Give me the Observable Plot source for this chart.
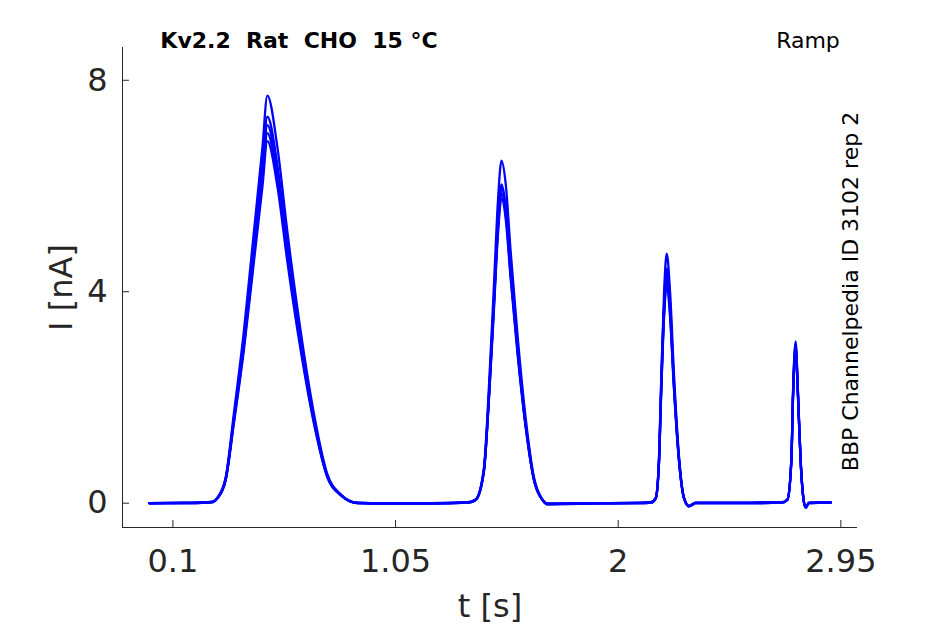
<!DOCTYPE html>
<html>
<head>
<meta charset="utf-8">
<script src="https://cdn.jsdelivr.net/npm/d3@7"></script>
<script src="https://cdn.jsdelivr.net/npm/@observablehq/plot@0.6"></script>
<style>
  html, body { margin: 0; padding: 0; background: #ffffff; }
  svg text { white-space: pre; }
</style>
</head>
<body>
<div id="chart"></div>
<script>
// ---- Data ----
const xTicks = [0.1, 1.05, 2, 2.95];
const yTicks = [0, 4, 8];
const xDomain = [-0.115, 3.021];
const yDomain = [-0.46, 8.62];

const titleText = "Kv2.2  Rat  CHO  15 °C";
const protocolText = "Ramp";
const sourceText = "BBP Channelpedia ID 3102 rep 2";
const xLabel = "t [s]";
const yLabel = "I [nA]";

// time samples [s]
const time = [
  0, 0.15, 0.25, 0.27,
  0.2895, 0.325, 0.360, 0.403, 0.446, 0.482, 0.503, 0.546, 0.588, 0.645, 0.702, 0.759, 0.816, 0.887,
  1.0, 1.2, 1.36,
  1.392, 1.427, 1.449, 1.470, 1.487, 1.502, 1.520, 1.541, 1.570, 1.605, 1.641, 1.677, 1.698,
  1.9, 2.1, 2.14,
  2.160, 2.174, 2.184, 2.196, 2.207, 2.221, 2.238, 2.260, 2.281, 2.302, 2.331,
  2.5, 2.70,
  2.722, 2.739, 2.746, 2.757, 2.767, 2.778, 2.790, 2.800, 2.814,
  2.907
];

// current traces [nA], one per repetition
const traceA = [
  0, 0.01, 0.02, 0.03,
  0.1, 0.48, 1.69, 3.26, 5.15, 6.73, 7.71, 6.73, 5.15, 3.26, 1.69, 0.55, 0.17, 0.01,
  0, 0, 0.02,
  0.07, 0.67, 2.25, 4.14, 5.72, 6.48, 6.04, 4.77, 3.2, 1.62, 0.48, 0.07, -0.01,
  0, 0.01, 0.02,
  0.1, 0.86, 2.44, 4.02, 4.72, 4.02, 2.44, 0.86, 0.1, -0.05, 0.01,
  0.01, 0.02,
  0.07, 0.86, 2.12, 3.06, 2.12, 0.86, 0.1, -0.08, 0.01,
  0.02
];
const traceB = [
  0, 0.01, 0.02, 0.03,
  0.1, 0.46, 1.6, 3.1, 4.9, 6.4, 7.31, 6.39, 4.89, 3.1, 1.6, 0.52, 0.16, 0.01,
  0, 0, 0.02,
  0.07, 0.62, 2.09, 3.85, 5.32, 6.03, 5.62, 4.44, 2.98, 1.51, 0.45, 0.06, -0.01,
  0, 0.01, 0.02,
  0.09, 0.81, 2.29, 3.78, 4.44, 3.78, 2.29, 0.81, 0.09, -0.05, 0.01,
  0.01, 0.02,
  0.07, 0.84, 2.08, 3.0, 2.08, 0.84, 0.1, -0.08, 0.01,
  0.02
];
const traceC = [
  0, 0.0, 0.01, 0.02,
  0.09, 0.45, 1.57, 3.03, 4.79, 6.26, 7.15, 6.26, 4.79, 3.03, 1.57, 0.51, 0.16, 0.0,
  0, -0.01, 0.01,
  0.06, 0.62, 2.07, 3.81, 5.26, 5.96, 5.56, 4.39, 2.94, 1.49, 0.44, 0.06, -0.01,
  0, 0, 0.01,
  0.09, 0.79, 2.24, 3.7, 4.34, 3.7, 2.24, 0.79, 0.09, -0.06, 0.0,
  0, 0.01,
  0.07, 0.83, 2.05, 2.96, 2.05, 0.83, 0.1, -0.08, 0.0,
  0.01
];
const traceD = [
  0, 0.0, 0.01, 0.02,
  0.09, 0.44, 1.54, 2.97, 4.69, 6.12, 7.0, 6.12, 4.69, 2.97, 1.54, 0.5, 0.15, 0.0,
  -0.01, 0, 0.01,
  0.06, 0.61, 2.04, 3.75, 5.18, 5.86, 5.47, 4.32, 2.9, 1.47, 0.43, 0.06, -0.02,
  0, 0, 0.01,
  0.09, 0.77, 2.2, 3.62, 4.25, 3.62, 2.2, 0.77, 0.09, -0.06, 0.0,
  0, 0.01,
  0.07, 0.82, 2.02, 2.92, 2.02, 0.82, 0.09, -0.09, 0.0,
  0.01
];
const traceE = [
  -0.01, 0.0, 0.01, 0.02,
  0.09, 0.43, 1.5, 2.9, 4.58, 5.99, 6.85, 5.99, 4.58, 2.9, 1.5, 0.49, 0.15, 0.0,
  -0.01, -0.01, 0.01,
  0.06, 0.6, 2.0, 3.68, 5.09, 5.77, 5.38, 4.25, 2.85, 1.44, 0.43, 0.06, -0.02,
  -0.01, 0, 0.01,
  0.09, 0.76, 2.15, 3.54, 4.15, 3.54, 2.15, 0.76, 0.09, -0.06, 0.0,
  0, 0.01,
  0.06, 0.81, 2.0, 2.88, 2.0, 0.81, 0.09, -0.09, 0.0,
  0.01
];

const traces = {A: traceA, B: traceB, C: traceC, D: traceD, E: traceE};

// long table for the line mark
const rows = [];
for (const [name, values] of Object.entries(traces)) {
  values.forEach((v, i) => rows.push({trace: name, t: time[i], I: v}));
}

const axisColor = "#262626";
const font = "DejaVu Sans";

const chart = Plot.plot({
  width: 945,
  height: 624,
  marginLeft: 122,
  marginRight: 88,
  marginTop: 47,
  marginBottom: 97,
  style: {fontFamily: font, background: "#ffffff", overflow: "visible"},
  x: {domain: xDomain, label: null},
  y: {domain: yDomain, label: null},
  marks: [
    Plot.line(rows, {x: "t", y: "I", z: "trace", stroke: "#0000ff", strokeWidth: 2.3, curve: "monotone-x"}),
    Plot.ruleY([yDomain[0]], {stroke: axisColor, strokeWidth: 1}),
    Plot.ruleX([xDomain[0]], {stroke: axisColor, strokeWidth: 1}),
    Plot.axisX({ticks: xTicks, tickFormat: d => String(d), tickSize: -7, tickPadding: 29,
      fontSize: 32, stroke: axisColor, color: axisColor, label: null}),
    Plot.axisY({ticks: yTicks, tickFormat: d => String(d), tickSize: -7, tickPadding: 22,
      fontSize: 32, stroke: axisColor, color: axisColor, label: null}),
    Plot.text([titleText], {frameAnchor: "top", dx: -191, dy: 0, lineAnchor: "bottom",
      fontSize: 22, fontWeight: "bold", fill: "#000000"}),
    Plot.text([protocolText], {frameAnchor: "top", dx: 318, dy: 0, lineAnchor: "bottom",
      fontSize: 22, fill: "#000000"}),
    Plot.text([sourceText], {frameAnchor: "right", textAnchor: "middle", rotate: -90, lineAnchor: "bottom",
      dx: 0, dy: 4, fontSize: 22, fill: "#000000"}),
    Plot.text([xLabel], {frameAnchor: "bottom", dy: 89, lineAnchor: "bottom",
      fontSize: 32, fill: axisColor}),
    Plot.text([yLabel], {frameAnchor: "left", textAnchor: "middle", rotate: -90, lineAnchor: "bottom",
      dx: -51, fontSize: 32, fill: axisColor})
  ]
});

document.getElementById("chart").appendChild(chart);
</script>
</body>
</html>
